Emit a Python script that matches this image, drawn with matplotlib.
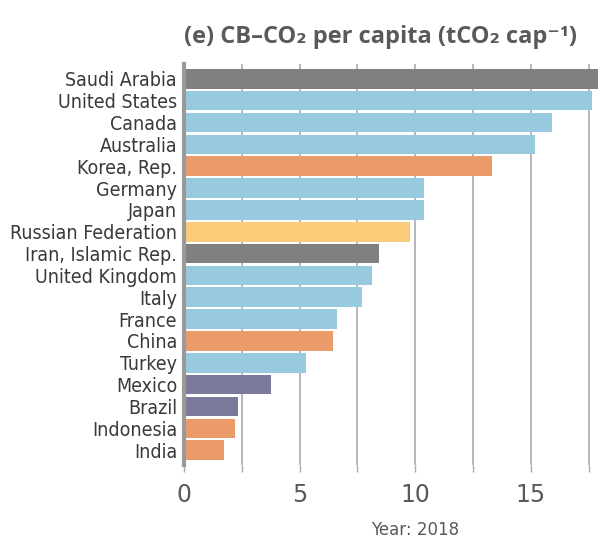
import matplotlib.pyplot as plt
from matplotlib import font_manager

# CB-CO2 per capita, 2018 (tCO2 per capita)
countries = ['Saudi Arabia', 'United States', 'Canada', 'Australia', 'Korea, Rep.',
             'Germany', 'Japan', 'Russian Federation', 'Iran, Islamic Rep.',
             'United Kingdom', 'Italy', 'France', 'China', 'Turkey', 'Mexico',
             'Brazil', 'Indonesia', 'India']
values = [18.6, 17.66, 15.89, 15.19, 13.33, 10.39, 10.39, 9.78, 8.44,
          8.14, 7.71, 6.62, 6.45, 5.28, 3.77, 2.34, 2.21, 1.73]
groups = ['gray', 'blue', 'blue', 'blue', 'orange', 'blue', 'blue', 'yellow', 'gray',
          'blue', 'blue', 'blue', 'orange', 'blue', 'purple', 'purple', 'orange', 'orange']

palette = {'gray': '#808080', 'blue': '#97C9DF', 'orange': '#EB9A69',
           'yellow': '#FCCB7A', 'purple': '#7A7A9A'}
txt = '#595959'

# condensed face if the system has one
cond = [f.fname for f in font_manager.fontManager.ttflist
        if f.name == 'DejaVu Sans' and f.stretch == 'condensed' and f.weight == 400
        and f.style == 'normal']
if cond:
    lab_font = font_manager.FontProperties(fname=cond[0], size=14)
else:
    lab_font = font_manager.FontProperties(family='DejaVu Sans', size=12.5)

fig = plt.figure(figsize=(6.02, 5.42), dpi=100)
ax = fig.add_axes([0.3056, 0.142, 0.6878, 0.740])

ypos = list(range(len(countries)))
ax.barh(ypos, values, height=0.9, color=[palette[g] for g in groups], zorder=2)

ax.set_xlim(0, 17.9)
ax.set_ylim(len(countries) - 1 + 0.68, -0.68)

ax.set_xticks([0, 5, 10, 15])
ax.set_xticks([2.5, 7.5, 12.5, 17.5], minor=True)
ax.set_xticklabels(['0', '5', '10', '15'], fontsize=17, color=txt)
ax.tick_params(axis='x', which='both', length=5, width=1, color='#AAAAAA', pad=8)
ax.grid(axis='x', which='both', color='#AAAAAA', linewidth=1.2, zorder=0)

ax.set_yticks(ypos)
ax.set_yticklabels(countries, color='#3a3a3a', fontproperties=lab_font)
ax.tick_params(axis='y', length=0, pad=5)

for s in ['top', 'right', 'bottom']:
    ax.spines[s].set_visible(False)
ax.spines['left'].set_color('#999999')
ax.spines['left'].set_linewidth(3)
ax.spines['left'].set_zorder(3)

fig.text(0.632, 0.932, '(e) CB\u2013CO\u2082 per capita (tCO\u2082 cap\u207b\u00b9)',
         ha='center', va='center', fontsize=17, fontweight='bold', color=txt,
         family=['Open Sans', 'DejaVu Sans'])
fig.text(0.69, 0.022, 'Year: 2018', ha='center', va='center', fontsize=12,
         color=txt)

fig.savefig('out.png', dpi=100)
